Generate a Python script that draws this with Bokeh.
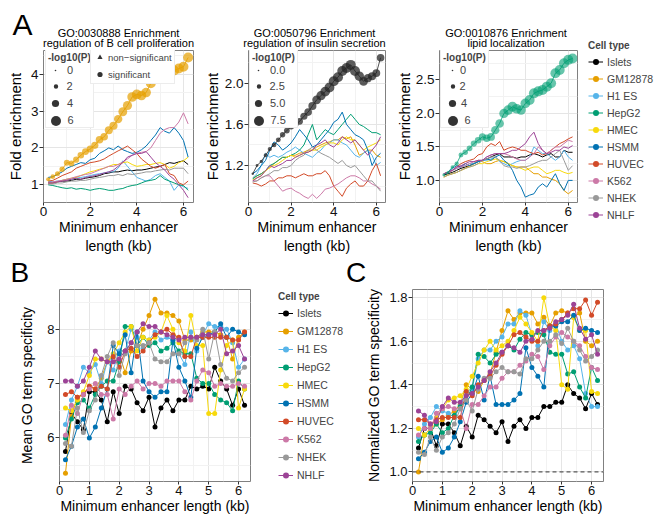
from bokeh.plotting import figure
from bokeh.layouts import row, column
from bokeh.models import (Range1d, FixedTicker, Label, Legend, LegendItem, Span, LinearAxis,
                          NumeralTickFormatter, ColumnDataSource, LinearInterpolator)
from bokeh.transform import transform
from bokeh.embed import file_html
from bokeh.resources import INLINE

# ---------------- data ----------------
x_kb = [0.2, 0.4, 0.6, 0.8, 1.0, 1.2, 1.4, 1.6, 1.8, 2.0, 2.2, 2.4, 2.6, 2.8, 3.0,
        3.2, 3.4, 3.6, 3.8, 4.0, 4.2, 4.4, 4.6, 4.8, 5.0, 5.2, 5.4, 5.6, 5.8, 6.0, 6.2]

cell_types = ["Islets", "GM12878", "H1 ES", "HepG2", "HMEC", "HSMM", "HUVEC", "K562", "NHEK", "NHLF"]

# Panel A1: GO:0030888 fold enrichment
a1_islets = [1.05,1.05,1.08,1.10,1.10,1.12,1.15,1.15,1.18,1.20,1.22,1.25,1.30,1.32,1.35,1.35,1.38,1.40,1.38,1.40,1.40,1.42,1.45,1.48,1.50,1.55,1.60,1.58,1.62,1.65,1.55]
a1_gm12878 = [1.15,1.22,1.30,1.42,1.60,1.58,1.68,1.80,1.90,1.97,2.07,2.22,2.30,2.48,2.60,2.78,2.98,3.15,3.38,3.45,3.42,3.50,3.75,3.95,4.10,4.05,4.00,4.10,4.15,4.20,4.45]
a1_h1es = [1.10,1.08,1.10,1.12,1.15,1.15,1.18,1.20,1.22,1.25,1.28,1.30,1.32,1.35,1.35,1.45,1.65,1.50,1.35,1.20,1.15,1.10,1.15,1.25,1.30,1.20,1.10,0.85,1.00,0.95,0.90]
a1_hepg2 = [1.00,0.98,0.95,0.92,0.90,0.92,0.88,0.90,0.88,0.85,0.88,0.90,0.88,0.85,0.85,0.88,0.90,0.95,0.98,1.00,1.05,1.10,1.12,1.15,1.25,1.15,1.10,1.05,1.00,0.98,0.85]
a1_hmec = [1.05,1.05,1.08,1.12,1.15,1.18,1.20,1.25,1.30,1.35,1.38,1.42,1.45,1.50,1.55,1.55,1.60,1.62,1.55,1.50,1.52,1.55,1.55,1.58,1.60,1.55,1.45,1.50,1.60,1.65,1.75]
a1_hsmm = [1.20,1.22,1.28,1.35,1.45,1.50,1.55,1.60,1.58,1.68,1.72,1.85,1.92,2.00,1.95,2.05,1.95,1.90,1.85,1.88,1.95,2.05,2.20,2.35,2.55,2.45,2.40,2.55,2.40,2.20,1.75]
a1_huvec = [1.10,1.12,1.18,1.25,1.30,1.35,1.45,1.50,1.55,1.60,1.62,1.65,1.70,1.78,1.85,1.92,1.98,2.05,1.95,1.85,1.70,1.60,1.50,1.45,1.50,1.55,1.30,1.25,1.05,1.00,1.10]
a1_k562 = [1.05,1.08,1.10,1.12,1.15,1.18,1.22,1.25,1.28,1.30,1.35,1.40,1.45,1.50,1.50,1.55,1.62,1.70,1.80,1.85,1.88,1.90,2.00,2.20,2.40,2.50,2.55,2.55,2.70,2.95,2.65]
a1_nhek = [1.02,1.02,1.05,1.05,1.08,1.10,1.10,1.12,1.12,1.15,1.18,1.20,1.22,1.25,1.25,1.28,1.25,1.30,1.28,1.30,1.32,1.35,1.35,1.38,1.40,1.42,1.40,1.45,1.45,1.45,1.30]
a1_nhlf = [1.05,1.05,1.08,1.10,1.12,1.15,1.18,1.15,1.20,1.22,1.25,1.28,1.32,1.35,1.40,1.50,1.60,1.75,1.80,1.85,1.85,1.90,1.75,1.60,1.50,1.40,1.25,1.15,1.00,0.85,0.65]
a1_logp = [1.8,2.2,2.5,2.8,3.2,3.0,3.3,3.6,3.8,3.9,4.0,4.3,4.3,4.6,4.7,4.9,5.2,5.4,5.8,5.9,5.7,5.7,6.0,6.2,6.4,6.2,6.0,6.1,6.1,6.0,6.3]

# Panel A2: GO:0050796 fold enrichment
a2_islets = [1.12,1.20,1.24,1.30,1.36,1.40,1.45,1.50,1.54,1.58,1.60,1.63,1.68,1.72,1.78,1.84,1.88,1.92,1.96,2.02,2.06,2.12,2.15,2.18,2.12,2.07,2.02,2.05,2.07,2.10,2.25]
a2_gm12878 = [1.08,1.10,1.12,1.15,1.18,1.22,1.25,1.28,1.28,1.30,1.30,1.32,1.33,1.35,1.35,1.38,1.40,1.42,1.43,1.45,1.45,1.48,1.46,1.48,1.40,1.30,1.32,1.35,1.35,1.30,1.28]
a2_h1es = [1.08,1.12,1.20,1.32,1.28,1.30,1.28,1.30,1.33,1.35,1.38,1.35,1.32,1.30,1.28,1.32,1.35,1.40,1.42,1.45,1.45,1.42,1.40,1.35,1.30,1.28,1.32,1.35,1.30,1.20,1.23]
a2_hepg2 = [1.07,1.10,1.12,1.15,1.20,1.22,1.25,1.28,1.28,1.30,1.32,1.35,1.40,1.50,1.60,1.45,1.50,1.55,1.52,1.50,1.55,1.60,1.65,1.70,1.65,1.60,1.58,1.55,1.52,1.52,1.50]
a2_hmec = [1.06,1.08,1.10,1.15,1.18,1.20,1.22,1.25,1.28,1.30,1.28,1.30,1.32,1.33,1.35,1.35,1.38,1.40,1.42,1.42,1.40,1.45,1.48,1.45,1.45,1.40,1.35,1.38,1.40,1.42,1.45]
a2_hsmm = [1.12,1.15,1.20,1.25,1.35,1.43,1.40,1.35,1.38,1.42,1.48,1.55,1.50,1.45,1.38,1.40,1.45,1.50,1.55,1.62,1.65,1.72,1.60,1.55,1.50,1.48,1.45,1.35,1.20,1.28,1.32]
a2_huvec = [1.03,1.02,1.00,1.02,1.05,1.05,1.08,1.08,1.10,1.10,1.08,1.10,1.12,1.10,1.10,1.12,1.12,1.15,1.10,1.00,0.95,0.90,0.98,1.02,1.05,1.00,1.00,1.05,1.15,1.22,1.10]
a2_k562 = [1.05,1.05,1.08,1.10,1.10,1.05,1.00,0.95,0.97,0.98,0.95,0.93,0.90,0.88,0.92,0.88,0.92,0.97,0.98,1.00,1.02,1.05,1.08,1.10,1.10,1.08,1.05,1.05,1.02,1.00,0.97]
a2_nhek = [1.04,1.05,1.08,1.10,1.12,1.15,1.15,1.18,1.18,1.20,1.25,1.28,1.30,1.35,1.38,1.35,1.32,1.30,1.28,1.25,1.22,1.25,1.20,1.18,1.20,1.15,1.10,1.05,1.05,1.00,0.95]
a2_nhlf = [1.05,1.08,1.10,1.15,1.20,1.18,1.20,1.22,1.25,1.25,1.28,1.30,1.32,1.33,1.35,1.40,1.42,1.45,1.40,1.38,1.42,1.48,1.45,1.42,1.45,1.40,1.35,1.30,1.35,1.40,1.48]
a2_logp = [0.8,1.2,1.6,2.0,2.4,2.8,3.0,3.4,3.8,4.0,4.2,4.6,5.0,5.4,5.8,6.4,6.8,7.2,7.4,8.0,8.2,8.6,8.4,8.2,7.6,7.0,6.4,6.0,5.8,5.6,5.4]

# Panel A3: GO:0010876 fold enrichment
a3_islets = [1.08,1.10,1.12,1.15,1.18,1.20,1.22,1.25,1.28,1.30,1.32,1.35,1.38,1.40,1.35,1.35,1.35,1.33,1.35,1.35,1.38,1.40,1.38,1.35,1.38,1.40,1.35,1.35,1.45,1.42,1.42]
a3_gm12878 = [1.05,1.08,1.10,1.12,1.15,1.18,1.22,1.25,1.30,1.28,1.25,1.25,1.28,1.30,1.28,1.25,1.22,1.20,1.20,1.20,1.15,1.10,1.10,1.05,1.05,1.02,1.00,0.95,0.85,0.80,0.85]
a3_h1es = [1.10,1.12,1.15,1.18,1.20,1.22,1.25,1.25,1.28,1.30,1.30,1.32,1.35,1.28,1.25,1.22,1.25,1.28,1.30,1.30,1.35,1.50,1.45,1.40,1.40,1.35,1.30,1.35,1.45,1.35,1.30]
a3_hepg2 = [1.08,1.12,1.20,1.25,1.38,1.42,1.48,1.55,1.60,1.65,1.63,1.65,1.75,1.85,2.00,2.05,2.10,2.07,2.05,2.15,2.20,2.30,2.33,2.35,2.40,2.45,2.60,2.65,2.75,2.80,2.82]
a3_hmec = [1.05,1.08,1.10,1.12,1.15,1.18,1.20,1.22,1.25,1.25,1.28,1.30,1.32,1.30,1.28,1.25,1.22,1.20,1.18,1.15,1.18,1.20,1.20,1.15,1.10,1.12,1.15,1.15,1.12,1.10,1.12]
a3_hsmm = [1.10,1.12,1.18,1.22,1.20,1.25,1.22,1.25,1.28,1.30,1.32,1.30,1.35,1.38,1.30,1.25,1.15,1.00,0.90,0.75,0.78,0.80,0.90,0.95,0.90,1.00,1.10,0.95,0.85,1.00,1.00]
a3_huvec = [1.10,1.12,1.15,1.20,1.25,1.28,1.30,1.32,1.38,1.40,1.50,1.55,1.52,1.58,1.45,1.48,1.50,1.48,1.45,1.45,1.42,1.40,1.42,1.38,1.40,1.45,1.50,1.55,1.58,1.62,1.65]
a3_k562 = [1.10,1.12,1.15,1.18,1.20,1.22,1.25,1.28,1.30,1.30,1.35,1.38,1.40,1.40,1.40,1.38,1.35,1.32,1.30,1.30,1.35,1.40,1.50,1.45,1.40,1.45,1.50,1.50,1.55,1.60,1.58]
a3_nhek = [1.05,1.08,1.10,1.12,1.15,1.18,1.20,1.22,1.25,1.30,1.32,1.35,1.35,1.30,1.22,1.20,1.20,1.18,1.20,1.20,1.22,1.25,1.28,1.30,1.30,1.35,1.40,1.45,1.30,1.15,1.22]
a3_nhlf = [1.10,1.12,1.15,1.20,1.22,1.25,1.28,1.28,1.30,1.30,1.35,1.38,1.40,1.40,1.40,1.42,1.45,1.45,1.50,1.55,1.65,1.72,1.55,1.45,1.40,1.42,1.45,1.45,1.50,1.48,1.52]
a3_logp = [1.0,1.2,1.5,2.0,2.4,2.8,3.0,3.3,3.6,4.0,4.2,4.5,4.8,5.0,5.5,5.8,6.0,5.8,5.6,5.8,6.0,6.2,6.0,6.0,6.2,6.2,6.4,6.4,6.6,6.6,6.4]

# Panel B: mean GO term specificity
b_islets = [5.75,6.45,6.30,6.15,6.85,6.85,6.70,6.30,6.85,6.45,6.95,6.90,6.65,6.50,6.75,6.20,6.55,6.70,6.50,6.70,6.70,6.95,6.90,6.95,6.90,7.30,7.05,6.90,6.60,6.90,6.60]
b_gm12878 = [5.35,6.40,6.75,6.80,6.95,6.90,7.10,7.40,7.50,7.55,7.20,7.60,7.70,8.00,8.25,8.55,8.30,8.30,8.25,8.15,7.80,7.80,7.85,7.95,7.95,7.95,7.90,7.85,7.45,7.85,7.95]
b_h1es = [6.25,6.70,6.95,7.30,7.20,7.35,7.00,7.40,7.25,7.60,7.60,8.00,7.85,7.65,7.80,7.95,7.80,7.85,7.80,7.55,7.35,7.95,7.60,7.90,8.10,8.05,8.05,8.00,7.75,7.30,7.45]
b_hepg2 = [6.00,6.35,6.65,6.70,6.55,6.80,6.95,7.05,7.05,7.40,8.05,8.05,7.70,7.85,7.70,7.75,7.60,7.65,7.75,7.60,7.55,7.55,7.10,7.00,7.00,6.80,6.70,6.65,6.50,7.05,6.90]
b_hmec = [6.55,6.50,6.70,6.85,7.15,7.45,7.45,7.40,7.55,7.75,7.95,8.05,7.60,7.85,7.80,7.85,7.95,8.25,8.00,7.75,7.60,8.25,7.70,7.70,6.45,6.45,7.25,7.70,7.80,6.55,6.90]
b_hsmm = [5.60,5.85,6.20,6.35,6.00,6.20,6.55,6.90,7.70,7.55,7.90,7.20,7.95,7.05,6.85,6.75,6.85,6.85,7.80,7.30,7.05,6.75,7.65,7.85,7.90,7.95,8.10,7.85,8.00,7.95,7.90]
b_huvec = [6.80,6.85,6.75,6.80,6.95,6.90,6.95,6.90,7.50,7.30,7.60,7.65,7.50,7.60,7.75,7.90,7.95,8.00,7.90,7.85,7.50,7.50,7.85,7.85,7.85,7.85,7.85,7.85,7.80,7.80,7.95]
b_k562 = [6.05,6.60,6.45,6.80,6.90,7.00,6.80,6.80,6.35,6.90,6.80,6.95,7.05,6.90,7.00,7.00,6.95,7.05,7.05,7.05,6.85,6.70,7.05,7.25,7.20,6.95,7.00,6.95,6.95,7.00,6.95]
b_nhek = [5.90,5.85,6.55,6.10,6.50,6.70,7.15,7.50,7.75,7.15,7.55,7.75,7.70,7.70,7.75,7.45,7.40,7.40,7.55,7.55,7.75,7.85,7.80,8.00,7.45,7.95,7.35,7.10,7.05,7.20,7.30]
b_nhlf = [7.05,7.05,6.95,7.05,7.30,7.60,7.45,7.40,7.40,7.45,7.60,7.75,7.95,8.10,8.05,8.05,7.95,7.90,7.85,7.80,7.85,7.85,7.85,7.90,7.90,7.90,8.00,7.55,7.60,7.70,7.45]

# Panel C: normalized GO term specificity
c_islets = [1.11,1.20,1.20,1.12,1.22,1.22,1.18,1.12,1.21,1.16,1.26,1.24,1.21,1.18,1.23,1.14,1.21,1.24,1.20,1.25,1.25,1.30,1.30,1.32,1.32,1.40,1.36,1.34,1.29,1.36,1.31]
c_gm12878 = [1.00,1.17,1.20,1.22,1.24,1.26,1.28,1.31,1.40,1.38,1.37,1.42,1.45,1.55,1.65,1.74,1.70,1.73,1.73,1.73,1.68,1.71,1.67,1.73,1.74,1.73,1.71,1.73,1.60,1.58,1.60]
c_h1es = [1.16,1.22,1.25,1.30,1.28,1.27,1.25,1.30,1.37,1.38,1.52,1.56,1.56,1.60,1.62,1.68,1.68,1.74,1.72,1.63,1.58,1.69,1.65,1.68,1.60,1.56,1.58,1.52,1.36,1.30,1.30]
c_hepg2 = [1.14,1.17,1.18,1.22,1.18,1.20,1.26,1.30,1.33,1.39,1.54,1.53,1.50,1.54,1.55,1.58,1.56,1.61,1.64,1.63,1.64,1.63,1.55,1.54,1.54,1.45,1.46,1.39,1.34,1.48,1.42]
c_hmec = [1.20,1.17,1.20,1.25,1.29,1.33,1.34,1.35,1.38,1.44,1.50,1.56,1.60,1.56,1.58,1.60,1.65,1.71,1.68,1.64,1.60,1.80,1.67,1.65,1.40,1.38,1.71,1.65,1.65,1.37,1.36]
c_hsmm = [1.06,1.09,1.14,1.16,1.09,1.11,1.16,1.23,1.32,1.36,1.44,1.33,1.44,1.31,1.31,1.31,1.33,1.36,1.57,1.48,1.44,1.39,1.67,1.67,1.69,1.69,1.72,1.65,1.66,1.65,1.64]
c_huvec = [1.24,1.24,1.22,1.24,1.25,1.25,1.25,1.25,1.37,1.35,1.40,1.42,1.44,1.49,1.54,1.58,1.63,1.64,1.62,1.60,1.60,1.65,1.67,1.68,1.70,1.73,1.75,1.75,1.79,1.72,1.78]
c_k562 = [1.17,1.20,1.20,1.27,1.29,1.30,1.29,1.29,1.20,1.31,1.31,1.35,1.39,1.39,1.43,1.46,1.46,1.49,1.51,1.54,1.53,1.47,1.58,1.62,1.64,1.62,1.60,1.58,1.53,1.48,1.47]
c_nhek = [1.09,1.08,1.16,1.10,1.16,1.18,1.22,1.29,1.33,1.28,1.38,1.43,1.43,1.46,1.48,1.46,1.46,1.45,1.52,1.52,1.56,1.60,1.60,1.63,1.59,1.66,1.60,1.56,1.51,1.53,1.56]
c_nhlf = [1.28,1.26,1.22,1.23,1.30,1.34,1.32,1.32,1.35,1.36,1.39,1.42,1.46,1.50,1.55,1.58,1.57,1.55,1.60,1.61,1.65,1.65,1.66,1.69,1.70,1.72,1.77,1.66,1.61,1.63,1.54]

A1 = dict(zip(cell_types, [a1_islets, a1_gm12878, a1_h1es, a1_hepg2, a1_hmec, a1_hsmm, a1_huvec, a1_k562, a1_nhek, a1_nhlf]))
A2 = dict(zip(cell_types, [a2_islets, a2_gm12878, a2_h1es, a2_hepg2, a2_hmec, a2_hsmm, a2_huvec, a2_k562, a2_nhek, a2_nhlf]))
A3 = dict(zip(cell_types, [a3_islets, a3_gm12878, a3_h1es, a3_hepg2, a3_hmec, a3_hsmm, a3_huvec, a3_k562, a3_nhek, a3_nhlf]))
B = dict(zip(cell_types, [b_islets, b_gm12878, b_h1es, b_hepg2, b_hmec, b_hsmm, b_huvec, b_k562, b_nhek, b_nhlf]))
C = dict(zip(cell_types, [c_islets, c_gm12878, c_h1es, c_hepg2, c_hmec, c_hsmm, c_huvec, c_k562, c_nhek, c_nhlf]))

# ---------------- style ----------------
COLORS = {"Islets": "#000000", "GM12878": "#E69F00", "H1 ES": "#56B4E9", "HepG2": "#009E73",
          "HMEC": "#F7D90C", "HSMM": "#0072B2", "HUVEC": "#D24A28", "K562": "#CC79A7",
          "NHEK": "#999999", "NHLF": "#9C4396"}
FONT = "Liberation Sans"
GRID_MAJOR = "#E5E5E5"
GRID_MINOR = "#F2F2F2"


def no_align(f):
    if "frame_align" in f.properties():
        f.frame_align = False
    return f


def blank_fig(width, height, x0=0, y0=0):
    f = figure(width=width, height=height, x_range=Range1d(x0, x0 + width),
               y_range=Range1d(y0, y0 + height), output_backend="svg", toolbar_location=None,
               min_border=0, x_axis_location=None, y_axis_location=None)
    f.outline_line_color = None
    for g in f.grid:
        g.visible = False
    f.background_fill_color = "white"
    f.border_fill_color = "white"
    return no_align(f)


def text(f, x, y, s, size, align="center", baseline="middle", bold=False):
    f.add_layout(Label(x=x, y=y, text=s, text_font=FONT, text_font_size=f"{size}px",
                       text_align=align, text_baseline=baseline, text_color="black",
                       text_font_style="bold" if bold else "normal"))


def style(p, tick_px, xt, xm, yt, ym, ylab, ylab_px, ylab_standoff, xlab, xlab_px, yfmt=None):
    no_align(p)
    p.outline_line_color = "#808080"
    p.outline_line_width = 1
    p.background_fill_color = "white"
    p.border_fill_color = "white"
    p.xaxis[0].ticker = FixedTicker(ticks=xt, minor_ticks=xm)
    p.yaxis[0].ticker = FixedTicker(ticks=yt, minor_ticks=ym)
    if yfmt:
        p.yaxis[0].formatter = NumeralTickFormatter(format=yfmt)
    for ax in (p.xaxis[0], p.yaxis[0]):
        ax.axis_line_color = None
        ax.major_tick_line_color = "#333333"
        ax.major_tick_in = 0
        ax.minor_tick_line_color = None
        ax.minor_tick_out = 0
        ax.major_label_text_font = FONT
        ax.major_label_text_font_size = f"{tick_px}px"
        ax.major_label_text_color = "#111111"
        ax.major_label_standoff = 1
        ax.axis_label_text_font = FONT
        ax.axis_label_text_font_style = "normal"
        ax.axis_label_text_color = "black"
    p.xaxis[0].major_tick_out = 3
    p.yaxis[0].major_tick_out = 4
    p.yaxis[0].axis_label = ylab
    p.yaxis[0].axis_label_text_font_size = f"{ylab_px}px"
    p.yaxis[0].axis_label_standoff = ylab_standoff
    p.xaxis[0].axis_label = xlab
    p.xaxis[0].axis_label_text_font_size = f"{xlab_px}px"
    p.xaxis[0].axis_label_standoff = 0
    for g in (p.xgrid[0], p.ygrid[0]):
        g.grid_line_color = GRID_MAJOR
        g.grid_line_width = 1
        g.minor_grid_line_color = GRID_MINOR
        g.minor_grid_line_width = 1


def size_legend(p, fh, src, vmax, vals, labels, box_left, key_x, lab_x):
    rows_fy = [fh - 23, fh - 39, fh - 56, fh - 73]
    bg = p.scatter(x=[], y=[], fill_alpha=0, line_alpha=0)
    p.add_layout(Legend(items=[LegendItem(label=" ", renderers=[bg])], title="-log10(P)",
                        location=(box_left, fh - 81), padding=2, glyph_width=10,
                        glyph_height=60, label_height=60, label_width=20, label_standoff=0,
                        title_standoff=2, title_text_font=FONT, title_text_font_size="10px",
                        title_text_font_style="bold", border_line_color="#D9D9D9",
                        background_fill_color="white", background_fill_alpha=1))
    for v, lab, fy in zip(vals, labels, rows_fy):
        d = 1.5 + 8.5 * v / vmax
        gw = max(int(round(d / 0.4)), 3)
        gh = max(gw, 16)
        # zero-size marks: only the legend key (sized by its box) is visible
        r = p.scatter("x", "y", source=src, marker="circle", size=0, fill_color="#333333",
                      line_color=None)
        p.add_layout(Legend(items=[LegendItem(label=lab, renderers=[r])],
                            location=(key_x - gw / 2, fy - gh / 2), padding=0,
                            glyph_width=gw, glyph_height=gh, label_height=gh, label_width=10,
                            label_standoff=max(0, int(round(lab_x - key_x - gw / 2))),
                            border_line_alpha=0, background_fill_alpha=0,
                            label_text_font=FONT, label_text_font_size="11px"))


HDR_A = 49
PLOT_A_H = 207
FH_A = 155


def make_a(data, hl, logp, vmax, t1, t2, yr, yt, ym, yfmt, size_labels, size_vals,
           width, ml, mr, hl_color, hl_alpha, ylab_standoff, box_left, key_x, lab_x, letter=None):
    fw = width - ml - mr
    hdr = blank_fig(width, HDR_A)
    if letter:
        text(hdr, 12, 25, letter, 30, align="left", baseline="middle")
    text(hdr, ml + fw / 2, 17, t1, 11)
    text(hdr, ml + fw / 2, 6.5, t2, 11)

    p = figure(width=width, height=PLOT_A_H, x_range=Range1d(0, 6.43), y_range=Range1d(*yr),
               output_backend="svg", toolbar_location=None, min_border_left=ml,
               min_border_right=mr, min_border_top=1, min_border_bottom=PLOT_A_H - 1 - FH_A)
    style(p, 13.5, [0, 2, 4, 6], [1, 3, 5], yt, ym, "Fold enrichment", 15, ylab_standoff,
          "Minimum enhancer", 14, yfmt)
    p.add_layout(LinearAxis(ticker=FixedTicker(ticks=[]), axis_label="length (kb)",
                            axis_line_color=None, major_tick_out=0, major_tick_in=0,
                            minor_tick_out=0, minor_tick_in=0, major_label_standoff=0,
                            axis_label_standoff=0, axis_label_text_font=FONT,
                            axis_label_text_font_size="14px",
                            axis_label_text_font_style="normal",
                            axis_label_text_color="black"), "below")
    for name in cell_types:
        if name == hl:
            continue
        p.line(x_kb, data[name], line_color=COLORS[name], line_width=1)
    src = ColumnDataSource(dict(x=x_kb, y=data[hl], logp=logp))
    p.line("x", "y", source=src, line_color=hl_color, line_width=1, line_alpha=0.8)
    p.scatter("x", "y", source=src, marker="circle",
              size=transform("logp", LinearInterpolator(x=[0, vmax], y=[1.5, 10], clip=False)),
              fill_color=hl_color, fill_alpha=hl_alpha, line_color=None)
    size_legend(p, FH_A, src, vmax, size_vals, size_labels, box_left, key_x, lab_x)
    return hdr, p, src


# ---- Row 1 ----
hA1, pA1, srcA1 = make_a(A1, "GM12878", a1_logp, 6, "GO:0030888 Enrichment",
                         "regulation of B cell proliferation", (0.52, 4.64), [1, 2, 3, 4],
                         [1.5, 2.5, 3.5, 4.5], None, ["0", "2", "4", "6"], [0, 2, 4, 6],
                         200, 43, 7, "#E69F00", 0.7, 4, 2, 12, 24, letter="A")
tri = pA1.scatter("x", "y", source=srcA1, marker="triangle", size=0, fill_color="#333333",
                  line_color=None)
cir = pA1.scatter("x", "y", source=srcA1, marker="circle", size=0, fill_color="#333333",
                  line_color=None)
pA1.add_layout(Legend(items=[LegendItem(label="non\u2212significant", renderers=[tri]),
                             LegendItem(label="significant", renderers=[cir])],
                      location=(47, FH_A - 37), padding=2, glyph_width=13, glyph_height=14,
                      label_height=14, spacing=3, label_standoff=2, label_text_font=FONT,
                      label_text_font_size="9.5px", border_line_color="#D9D9D9",
                      background_fill_color="white", background_fill_alpha=1))

hA2, pA2, _ = make_a(A2, "Islets", a2_logp, 7.5, "GO:0050796 Enrichment",
                     "regulation of insulin secretion", (0.84, 2.32), [1.2, 1.6, 2.0],
                     [1.0, 1.4, 1.8, 2.2], "0.0", ["0.0", "2.5", "5.0", "7.5"], [0, 2.5, 5, 7.5],
                     192, 43, 7, "#262626", 0.75, 1, 1, 10, 22)

hA3, pA3, _ = make_a(A3, "HepG2", a3_logp, 6, "GO:0010876 Enrichment", "lipid localization",
                     (0.67, 2.94), [1.0, 1.5, 2.0, 2.5], [0.75, 1.25, 1.75, 2.25, 2.75], "0.0",
                     ["0", "2", "4", "6"], [0, 2, 4, 6], 188, 42, 3, "#009E73", 0.6, 0, 1, 13, 21)


def cell_legend_fig(width, height, data, x, y, gh, spacing):
    # legend-only panel; its ranges keep the (legend-source) lines out of view
    f = blank_fig(width, height, 100, 100)
    items = []
    for name in cell_types:
        lr = f.line(x_kb, data[name], line_color=COLORS[name], line_width=1)
        sr = f.scatter(x_kb, data[name], marker="circle", size=5, fill_color=COLORS[name],
                       line_color=None)
        items.append(LegendItem(label=name, renderers=[lr, sr]))
    f.add_layout(Legend(items=items, title="Cell type", location=(x, y), padding=2,
                        glyph_width=15, glyph_height=gh, label_height=gh, spacing=spacing,
                        label_standoff=4, title_standoff=3, title_text_font=FONT,
                        title_text_font_size="10px", title_text_font_style="bold",
                        label_text_font=FONT, label_text_font_size="10.5px",
                        border_line_alpha=0, background_fill_alpha=0))
    return f


legA = cell_legend_fig(75, HDR_A + PLOT_A_H, A3, 6, 32, 15, 2)

# ---- Row 2 ----
HDR_B = 32
PLOT_B_H = 230
FH_B = 192


def make_bc(data, ylab, yr, yt, ym, yfmt, width, ml, mr, ylab_standoff, letter, letter_x):
    hdr = blank_fig(width, HDR_B)
    text(hdr, letter_x, 16, letter, 28, align="left", baseline="middle")
    p = figure(width=width, height=PLOT_B_H, x_range=Range1d(0, 6.4), y_range=Range1d(*yr),
               output_backend="svg", toolbar_location=None, min_border_left=ml,
               min_border_right=mr, min_border_top=1, min_border_bottom=PLOT_B_H - 1 - FH_B)
    style(p, 13, [0, 1, 2, 3, 4, 5, 6], [0.5, 1.5, 2.5, 3.5, 4.5, 5.5], yt, ym, ylab, 14,
          ylab_standoff, "Minimum enhancer length (kb)", 14, yfmt)
    for name in cell_types:
        p.line(x_kb, data[name], line_color=COLORS[name], line_width=1)
        p.scatter(x_kb, data[name], marker="circle", size=5, fill_color=COLORS[name],
                  line_color=None)
    return hdr, p


hB, pB = make_bc(B, "Mean GO term specificity", (5.2, 8.73), [6, 7, 8], [5.5, 6.5, 7.5, 8.5],
                 None, 254, 59, 4, 9, "B", 10)
legB = cell_legend_fig(91, HDR_B + PLOT_B_H, B, 22, 33, 16, 2)
hC, pC = make_bc(C, "Normalized GO term specificity", (0.956, 1.838), [1.0, 1.2, 1.4, 1.6, 1.8],
                 [1.1, 1.3, 1.5, 1.7], "0.0", 310, 67, 52, 4, "C", 0.5)
pC.add_layout(Span(location=1.0, dimension="width", line_color="#333333", line_width=1,
                   line_dash="4 3"))

layout = column(
    row(column(hA1, pA1), column(hA2, pA2), column(hA3, pA3), legA),
    row(column(hB, pB), legB, column(hC, pC)),
)
open("out.html", "w").write(file_html(layout, INLINE))
